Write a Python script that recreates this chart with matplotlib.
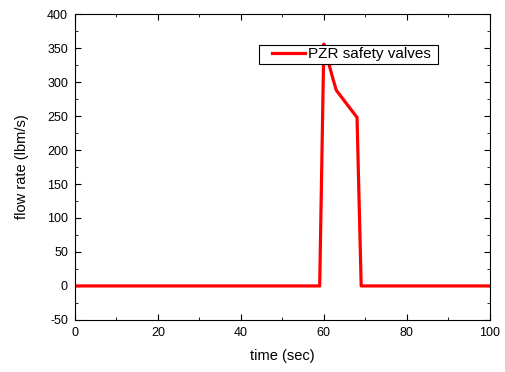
import matplotlib
matplotlib.use("Agg")
import matplotlib.pyplot as plt
from matplotlib.ticker import MultipleLocator
from matplotlib.legend_handler import HandlerLine2D

plt.rcParams['font.family'] = ['Liberation Sans', 'DejaVu Sans']
plt.rcParams['axes.unicode_minus'] = False

# safety valve flow
time = [0, 59.0, 60.0, 60.5, 61.0, 62.0, 63.0, 64.0, 65.0, 66.0, 67.0, 68.0, 69.0, 100]
flow = [0, 0, 356, 345, 332, 309, 288, 280, 272, 264, 256, 248, 0, 0]

fig = plt.figure(figsize=(5.06, 3.72), dpi=100)
ax = fig.add_axes([0.148, 0.14, 0.82, 0.822])

line, = ax.plot(time, flow, color='#ff0000', linewidth=2.3, label='PZR safety valves ')

ax.set_xlim(0, 100)
ax.set_ylim(-50, 400)
ax.xaxis.set_major_locator(MultipleLocator(20))
ax.xaxis.set_minor_locator(MultipleLocator(10))
ax.yaxis.set_major_locator(MultipleLocator(50))
ax.yaxis.set_minor_locator(MultipleLocator(25))
ax.tick_params(which='both', direction='in', top=True, right=True, labelsize=9)
ax.tick_params(which='major', length=4, pad=5)
ax.tick_params(which='minor', length=2)

ax.set_xlabel('time (sec)', fontsize=10.5, labelpad=7)
ax.set_ylabel('flow rate (lbm/s)', fontsize=10.5, labelpad=13)

# handle inset from the frame like the original
leg = ax.legend(loc='upper left', bbox_to_anchor=(0.443, 0.899), fontsize=11,
                frameon=True, fancybox=False, edgecolor='black', framealpha=1,
                borderpad=0.15, handlelength=2.9, handletextpad=0.2,
                borderaxespad=0, handler_map={line: HandlerLine2D(xpad=0.72)})
leg.get_frame().set_linewidth(0.8)

fig.savefig('out.png', dpi=100)
